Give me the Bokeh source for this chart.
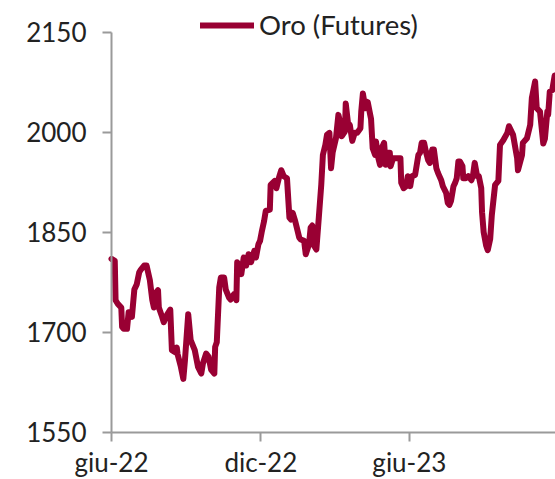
import pandas as pd
from bokeh.plotting import figure
from bokeh.models import FixedTicker, Range1d
from bokeh.embed import file_html
from bokeh.resources import INLINE

# ---- data ----
start_date = "2022-06-01"
# day offsets from start_date
days = [0, 4, 5, 8, 12, 13, 15, 19, 21, 25, 28, 31, 34, 36, 40, 43, 47, 50, 52, 55,
        57, 58, 62, 64, 68, 72, 74, 78, 80, 81, 85, 88, 90, 94, 97, 102, 106, 110, 112, 116,
        119, 122, 126, 127, 129, 132, 134, 138, 140, 144, 146, 150, 153, 154, 157, 159, 162, 165, 168, 171,
        175, 177, 180, 182, 184, 187, 189, 194, 195, 200, 202, 205, 208, 211, 215, 218, 220, 222, 225, 227,
        230, 232, 236, 238, 242, 244, 246, 248, 251, 254, 257, 259, 262, 264, 267, 269, 271, 275, 278, 280,
        282, 286, 287, 290, 292, 295, 298, 301, 305, 306, 308, 311, 312, 314, 317, 318, 320, 323, 324, 327,
        329, 331, 334, 336, 339, 341, 342, 345, 349, 354, 355, 358, 361, 363, 366, 368, 372, 376, 378, 380,
        383, 385, 388, 390, 393, 395, 398, 400, 404, 406, 410, 412, 414, 416, 419, 421, 423, 425, 427, 430,
        431, 434, 437, 441, 443, 445, 448, 450, 453, 454, 456, 459, 461, 464, 466, 470, 474, 476, 480, 485,
        487, 492, 497, 498, 503, 504, 509, 513, 515, 519, 521, 525, 529, 531, 534, 535, 537, 540, 543]
prices = [1810, 1807, 1748, 1742, 1737, 1708, 1705, 1705, 1730, 1723, 1764, 1772, 1790, 1794, 1800, 1800, 1778, 1748, 1737, 1760,
          1763, 1737, 1723, 1715, 1726, 1734, 1673, 1670, 1677, 1667, 1648, 1630, 1658, 1727, 1688, 1673, 1648, 1638, 1653, 1668,
          1663, 1644, 1638, 1678, 1685, 1767, 1782, 1782, 1764, 1752, 1749, 1757, 1748, 1805, 1797, 1787, 1812, 1800, 1817, 1805,
          1822, 1812, 1832, 1837, 1850, 1867, 1882, 1884, 1921, 1927, 1916, 1931, 1943, 1934, 1931, 1872, 1869, 1879, 1867, 1857,
          1842, 1839, 1837, 1817, 1832, 1857, 1860, 1830, 1824, 1872, 1921, 1966, 1981, 1996, 1999, 1946, 1970, 1991, 2026, 2016,
          1994, 2001, 2043, 2011, 2011, 1987, 1999, 1999, 2006, 2031, 2058, 2036, 2046, 2045, 2026, 2020, 1976, 1966, 1986, 1961,
          1951, 1976, 1984, 1951, 1969, 1969, 1949, 1961, 1961, 1961, 1924, 1916, 1919, 1934, 1919, 1934, 1936, 1966, 1969, 1984,
          1984, 1972, 1958, 1954, 1974, 1974, 1946, 1939, 1928, 1919, 1909, 1894, 1891, 1897, 1919, 1924, 1931, 1956, 1956, 1949,
          1931, 1931, 1934, 1928, 1936, 1954, 1934, 1934, 1916, 1880, 1850, 1830, 1823, 1840, 1876, 1921, 1927, 1981, 1988, 1999,
          2009, 1996, 1961, 1943, 1966, 1984, 1991, 2011, 2051, 2076, 2036, 2031, 1983, 1990, 2031, 2026, 2061, 2063, 2085]
series_name = "Oro (Futures)"
tick_dates = ["2022-06-01", "2022-12-01", "2023-06-01"]
tick_labels = ["giu-22", "dic-22", "giu-23"]
y_ticks = [1550, 1700, 1850, 2000, 2150]
y_min, y_max = 1550, 2150
x_end_date = "2023-11-27"

# ---- build ----
t0 = pd.Timestamp(start_date)
tick_pos = [(pd.Timestamp(d) - t0).days for d in tick_dates]
x_end = (pd.Timestamp(x_end_date) - t0).days

FONT = "Lato"
TXT = "#222222"
AX = "#9a9a9a"
RED = "#990033"

W, H = 555, 479
# pixel placement of the axes inside the canvas
LEFT_PX = 111.0     # value axis position (from left)
AXIS_Y_PX = 431.7   # time axis position (from top)
TOP_PX = 31.7       # top of value axis (from top)

upp = (y_max - y_min) / (AXIS_Y_PX - TOP_PX)
y_lo = y_min - (H - AXIS_Y_PX) * upp
y_hi = y_max + TOP_PX * upp
dpp = x_end / (W - LEFT_PX)
x_lo = -LEFT_PX * dpp

p = figure(width=W, height=H, output_backend="svg", toolbar_location=None,
           x_range=Range1d(x_lo, x_end), y_range=Range1d(y_lo, y_hi),
           min_border_left=0, min_border_right=0, min_border_top=0, min_border_bottom=0)
p.outline_line_color = None
p.xgrid.visible = False
p.ygrid.visible = False
p.background_fill_color = "white"
p.border_fill_color = "white"

p.line(days, prices, line_width=6, color=RED, line_cap="round", line_join="round",
       legend_label=series_name)

for ax in (p.xaxis[0], p.yaxis[0]):
    ax.axis_line_color = AX
    ax.axis_line_width = 2
    ax.major_tick_line_color = AX
    ax.major_tick_line_width = 2
    ax.major_tick_out = 9
    ax.major_tick_in = 0
    ax.minor_tick_line_color = None
    ax.major_label_text_font = FONT
    ax.major_label_text_font_size = "26px"
    ax.major_label_text_color = TXT

p.yaxis.ticker = FixedTicker(ticks=y_ticks)
p.yaxis.bounds = (y_min, y_max)
p.yaxis.fixed_location = 0
p.yaxis.major_label_standoff = 16
p.xaxis.ticker = FixedTicker(ticks=tick_pos)
p.xaxis.bounds = (0, x_end)
p.xaxis.major_label_overrides = {tp: lab for tp, lab in zip(tick_pos, tick_labels)}
p.xaxis.major_label_standoff = 5
p.xaxis.fixed_location = y_min

lg = p.legend[0]
lg.location = (200, 438)
lg.padding = 0
lg.margin = 0
lg.spacing = 0
lg.border_line_color = None
lg.background_fill_alpha = 0
lg.glyph_width = 54
lg.glyph_height = 20
lg.label_standoff = 5
lg.label_text_font = FONT
lg.label_text_font_size = "27.5px"
lg.label_text_color = TXT

open("out.html", "w").write(file_html(p, INLINE))
